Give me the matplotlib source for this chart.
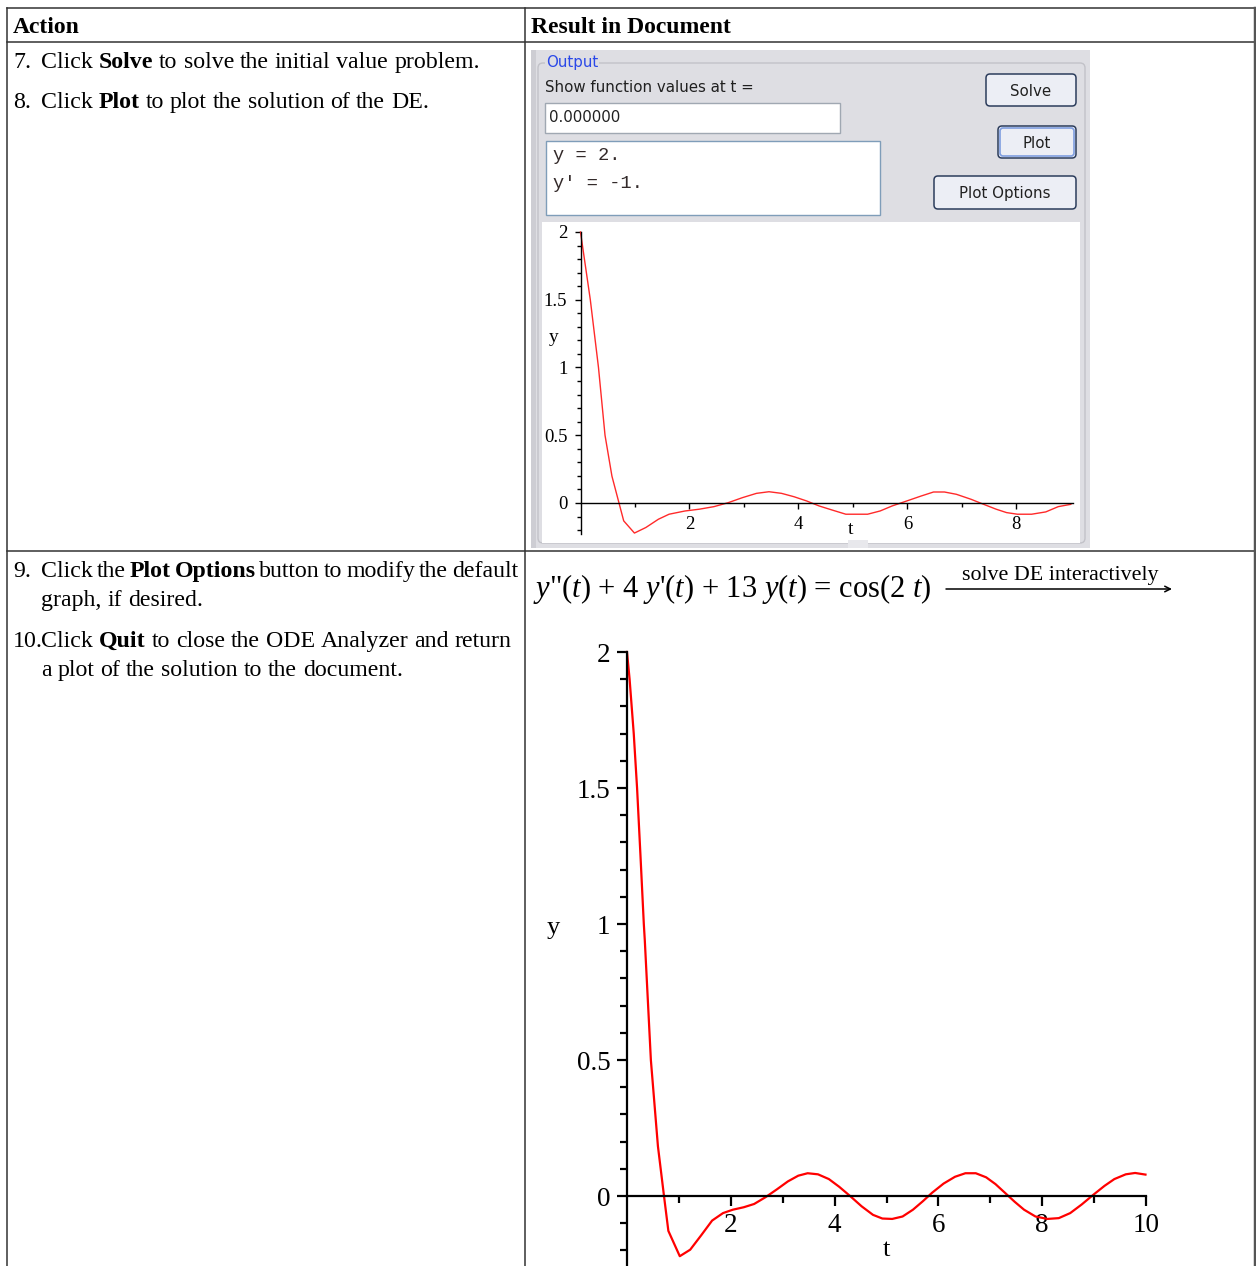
import matplotlib.pyplot as plt
from matplotlib.patches import Rectangle, FancyBboxPatch
from matplotlib.ticker import FixedLocator, MultipleLocator, FuncFormatter

plt.rcParams['font.family'] = 'Liberation Serif'
plt.rcParams['mathtext.fontset'] = 'custom'
plt.rcParams['mathtext.rm'] = 'Liberation Serif'
plt.rcParams['mathtext.it'] = 'Liberation Serif:italic'
plt.rcParams['mathtext.bf'] = 'Liberation Serif:bold'

W, H = 1256, 1266

# solution as drawn in the ODE Analyzer preview
t_preview = [0, 0.18, 0.33, 0.45, 0.577, 0.793, 0.99, 1.2, 1.43, 1.626, 1.92, 2.18, 2.45,
             2.71, 2.97, 3.23, 3.46, 3.69, 3.92, 4.15, 4.38, 4.61, 4.87, 5.27, 5.5, 5.72,
             5.99, 6.25, 6.48, 6.68, 6.9, 7.17, 7.40, 7.63, 7.82, 8.02, 8.28, 8.54, 8.77, 9.0]
y_preview = [2.0, 1.5, 1.0, 0.5, 0.198, -0.132, -0.222, -0.181, -0.12, -0.083, -0.059, -0.046,
             -0.027, 0.002, 0.039, 0.071, 0.083, 0.071, 0.046, 0.015, -0.022, -0.051, -0.083,
             -0.083, -0.059, -0.022, 0.015, 0.051, 0.081, 0.081, 0.064, 0.027, -0.01, -0.046,
             -0.071, -0.083, -0.083, -0.066, -0.027, -0.01]

# solution plot returned to the document
t_doc = [0, 0.05, 0.13, 0.194, 0.26, 0.324, 0.343, 0.46, 0.596, 0.713, 0.797, 1.017, 1.218,
         1.43, 1.64, 1.85, 2.04, 2.25, 2.45, 2.67, 2.89, 3.10, 3.30, 3.48, 3.68, 3.89, 4.09,
         4.30, 4.52, 4.74, 4.92, 5.11, 5.31, 5.51, 5.70, 5.88, 6.10, 6.32, 6.52, 6.72, 6.92,
         7.10, 7.28, 7.47, 7.65, 7.87, 8.10, 8.32, 8.54, 8.76, 8.98, 9.20, 9.39, 9.61, 9.79, 9.99]
y_doc = [2.0, 1.90, 1.70, 1.50, 1.25, 1.0, 0.94, 0.50, 0.183, 0.0, -0.128, -0.221, -0.197,
         -0.144, -0.09, -0.0625, -0.05, -0.041, -0.029, -0.004, 0.025, 0.054, 0.075, 0.084,
         0.08, 0.0625, 0.034, 0.0, -0.0375, -0.069, -0.0825, -0.084, -0.075, -0.05, -0.019,
         0.0125, 0.046, 0.071, 0.084, 0.084, 0.069, 0.044, 0.0125, -0.021, -0.05, -0.075,
         -0.084, -0.081, -0.0625, -0.031, 0.004, 0.0375, 0.0625, 0.08, 0.085, 0.079]

y_major = [0, 0.5, 1, 1.5, 2]
x_major_preview = [2, 4, 6, 8]
x_major_doc = [2, 4, 6, 8, 10]

header = ["Action", "Result in Document"]
# (number, [(piece, bold), ...], baseline, word gap in points)
steps = [
    ("7.", [("Click", False), ("Solve", True), ("to solve the initial value problem.", False)], 68, 4.3),
    ("8.", [("Click", False), ("Plot", True), ("to plot the solution of the DE.", False)], 108, 4.3),
    ("9.", [("Click the", False), ("Plot Options", True),
            ("button to modify the default", False)], 577, 2.8),
    ("", [("graph, if desired.", False)], 606, 4.3),
    ("10.", [("Click", False), ("Quit", True),
             ("to close the ODE Analyzer and return", False)], 647, 4.3),
    ("", [("a plot of the solution to the document.", False)], 676, 4.3),
]

equation = r'$y$"($t$) + 4 $y$'"'"r'($t$) + 13 $y$($t$) = cos(2 $t$)'
arrow_label = "solve DE interactively"

fig = plt.figure(figsize=(W / 100, H / 100), dpi=100)
bg = fig.add_axes([0, 0, 1, 1])
bg.set_xlim(0, W)
bg.set_ylim(H, 0)
bg.axis('off')


def px_axes(x0, y0, x1, y1):
    """Add an axes given in pixel coordinates (origin top left)."""
    return fig.add_axes([x0 / W, 1 - y1 / H, (x1 - x0) / W, (y1 - y0) / H])


def rich_line(x, y, pieces, gap, fs=17.2):
    """Write regular/bold words one after another on a common baseline."""
    words = [(w, bold) for txt, bold in pieces for w in txt.split()]
    w, bold = words[0]
    t = bg.text(x, y, w, fontsize=fs, fontweight='bold' if bold else 'normal', va='baseline')
    for w, bold in words[1:]:
        t = bg.annotate(w, xy=(1, 0), xycoords=t, xytext=(gap, 0),
                        textcoords='offset points', fontsize=fs,
                        fontweight='bold' if bold else 'normal', va='bottom')


def maple_axes(ax, xmaj, xmin, lw, maj_len, min_len, fs, pad):
    for s in ['top', 'right']:
        ax.spines[s].set_visible(False)
    ax.spines['bottom'].set_position(('data', 0))
    for s in ['left', 'bottom']:
        ax.spines[s].set_linewidth(lw)
    ax.xaxis.set_major_locator(FixedLocator(xmaj))
    ax.xaxis.set_minor_locator(FixedLocator(xmin))
    ax.yaxis.set_major_locator(FixedLocator(y_major))
    ax.yaxis.set_minor_locator(MultipleLocator(0.1))
    ax.yaxis.set_major_formatter(FuncFormatter(lambda v, p: f"{v:g}"))
    ax.tick_params(which='major', direction='out', length=maj_len, width=lw, labelsize=fs, pad=pad)
    ax.tick_params(which='minor', direction='out', length=min_len, width=lw)
    ax.patch.set_visible(False)


# ---- table ----
line_kw = dict(color='#333333', lw=1.1)
bg.plot([7, 1255], [8, 8], **line_kw)
bg.plot([7, 1255], [42, 42], **line_kw)
bg.plot([7, 1255], [551, 551], **line_kw)
bg.plot([7, 7], [8, H], **line_kw)
bg.plot([525, 525], [8, H], **line_kw)
bg.plot([1254.5, 1254.5], [8, H], color='#555555', lw=2.5)

bg.text(13, 33, header[0], fontsize=17, fontweight='bold', va='baseline')
bg.text(531, 33, header[1], fontsize=17, fontweight='bold', va='baseline')
for num, pieces, yb, gap in steps:
    if num:
        bg.text(13, yb, num, fontsize=17.2, va='baseline')
    rich_line(41, yb, pieces, gap)

# ---- ODE Analyzer panel ----
bg.add_patch(Rectangle((531, 50), 559, 498, fc='#dedee3', ec='none'))
bg.add_patch(Rectangle((531, 50), 5, 498, fc='#cdcdd3', ec='none'))
bg.add_patch(FancyBboxPatch((538, 63), 547, 480, boxstyle='round,pad=0,rounding_size=5',
                            fc='none', ec='#c2c2c8', lw=1))
bg.text(546, 63, "Output", family='DejaVu Sans', fontsize=10.8, color='#2a48e8', va='center',
        bbox=dict(fc='#dedee3', ec='none', pad=0.5))
bg.text(545, 88, "Show function values at t =", family='DejaVu Sans', fontsize=10.8,
        color='#202020', va='center')
bg.add_patch(Rectangle((545, 103), 295, 30, fc='white', ec='#a0a8b2', lw=1))
bg.text(549, 118, "0.000000", family='DejaVu Sans', fontsize=10.8, color='#202020', va='center')
bg.add_patch(Rectangle((546, 141), 334, 74, fc='white', ec='#7f9db9', lw=1))
bg.text(553, 155, "y = 2.", family='Liberation Mono', fontsize=13.5, color='#332a2a', va='center')
bg.text(553, 183, "y' = -1.", family='Liberation Mono', fontsize=13.5, color='#332a2a', va='center')

buttons = [("Solve", 986, 74, 1076, 106, False),
           ("Plot", 998, 126, 1076, 158, True),
           ("Plot Options", 934, 176, 1076, 209, False)]
for label, x0, y0, x1, y1, focus in buttons:
    bg.add_patch(FancyBboxPatch((x0, y0), x1 - x0, y1 - y0, boxstyle='round,pad=0,rounding_size=4',
                                fc='#eceef5', ec='#2c3d5c', lw=1.1))
    if focus:
        bg.add_patch(FancyBboxPatch((x0 + 2, y0 + 2), x1 - x0 - 4, y1 - y0 - 4,
                                    boxstyle='round,pad=0,rounding_size=3',
                                    fc='none', ec='#7f9ee0', lw=1.2))
    bg.text((x0 + x1) / 2, (y0 + y1) / 2 + 1, label, family='DejaVu Sans', fontsize=10.8,
            color='#202020', ha='center', va='center')

bg.add_patch(Rectangle((542, 222), 538, 321, fc='white', ec='none'))
bg.add_patch(Rectangle((848, 540), 20, 8, fc='#e8e8ec', ec='none'))

# preview plot
ax1 = px_axes(580.5, 232, 1073, 534)
ax1.set_xlim(0, 9.04)
ax1.set_ylim(-0.229, 2.0)
maple_axes(ax1, x_major_preview, [1, 3, 5, 7], 1.0, 4.5, 3, 13.5, 5)
ax1.plot(t_preview, y_preview, color='#ff2a2a', lw=1.0, clip_on=False)
bg.text(554, 337, "y", fontsize=14, ha='center', va='center')
bg.text(851, 529, "t", fontsize=14, ha='center', va='center')

# ---- row 2: equation and document plot ----
bg.text(533, 597, equation, fontsize=22, va='baseline')
bg.text(1060, 580, arrow_label, fontsize=15.8, ha='center', va='baseline')
bg.annotate('', xy=(1172, 589), xytext=(946, 589),
            arrowprops=dict(arrowstyle='->', lw=1.1, color='black', shrinkA=0, shrinkB=0))

ax2 = px_axes(627, 652, 1146, H)
ax2.set_xlim(0, 10)
ax2.set_ylim(-0.257, 2.0)
maple_axes(ax2, x_major_doc, [1, 3, 5, 7, 9], 1.6, 7, 5, 19.5, 5)
ax2.plot(t_doc, y_doc, color='#ff0000', lw=1.6, clip_on=False)
bg.text(553, 928, "y", fontsize=19, ha='center', va='center')
bg.text(886, 1250, "t", fontsize=19, ha='center', va='center')

fig.savefig('out.png', dpi=100)
